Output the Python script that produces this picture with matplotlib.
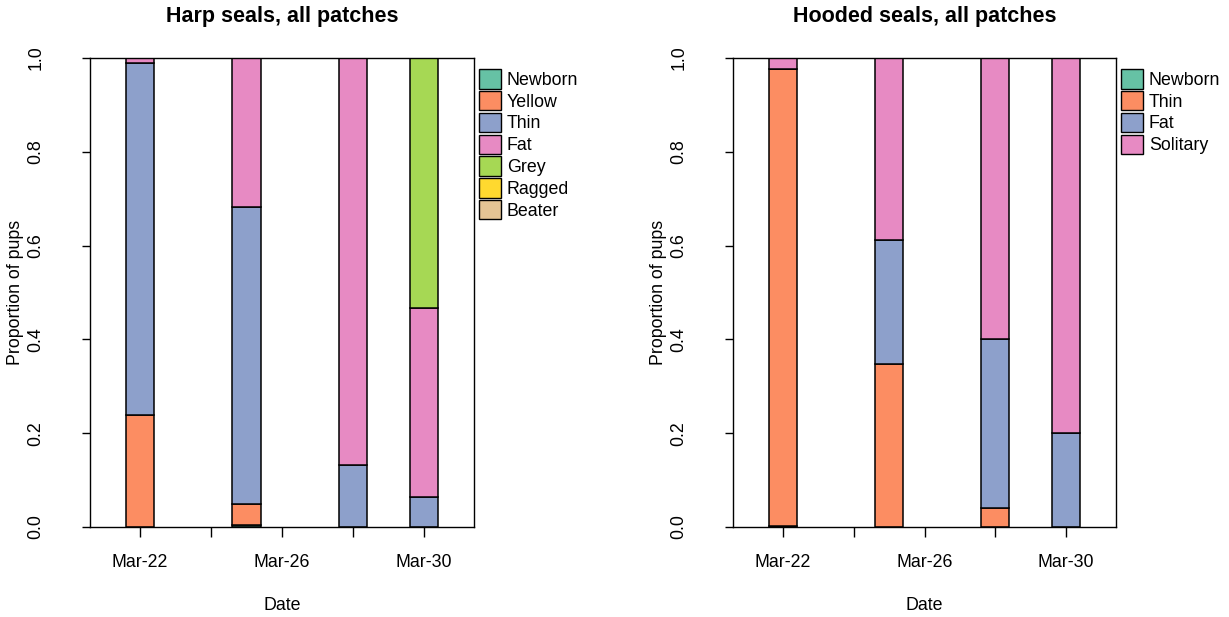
import matplotlib
matplotlib.use("Agg")
import matplotlib.pyplot as plt
from matplotlib.patches import Patch
import numpy as np

plt.rcParams['font.family'] = ['Liberation Sans', 'DejaVu Sans']

# ---- data ----
dates = ["Mar-22", "Mar-25", "Mar-28", "Mar-30"]
tick_days = [22, 24, 26, 28, 30]
tick_labels = ["Mar-22", "", "Mar-26", "", "Mar-30"]

harp_cats = ["Newborn", "Yellow", "Thin", "Fat", "Grey", "Ragged", "Beater"]
harp_newborn = [0.0, 0.005, 0.0, 0.0]
harp_yellow = [0.238, 0.045, 0.0, 0.0]
harp_thin = [0.752, 0.633, 0.132, 0.064]
harp_fat = [0.010, 0.317, 0.868, 0.403]
harp_grey = [0.0, 0.0, 0.0, 0.533]
harp_ragged = [0.0, 0.0, 0.0, 0.0]
harp_beater = [0.0, 0.0, 0.0, 0.0]

hood_cats = ["Newborn", "Thin", "Fat", "Solitary"]
hood_newborn = [0.003, 0.0, 0.0, 0.0]
hood_thin = [0.973, 0.347, 0.040, 0.0]
hood_fat = [0.0, 0.266, 0.360, 0.200]
hood_solitary = [0.024, 0.387, 0.600, 0.800]

colors = ["#66C2A5", "#FC8D62", "#8DA0CB", "#E78AC3", "#A6D854", "#FFD92F", "#E5C494"]

days = [int(d.split("-")[1]) for d in dates]

W, H = 1229, 617
fig = plt.figure(figsize=(W / 100, H / 100), dpi=100)
FS = 12.8

def make_panel(rect, title, cats, series):
    ax = fig.add_axes(rect)
    bottom = np.zeros(len(days))
    for i, vals in enumerate(series):
        vals = np.array(vals)
        ax.bar(days, vals, width=0.8, bottom=bottom, color=colors[i],
               edgecolor="black", linewidth=1.1, zorder=2)
        bottom += vals
    ax.set_xlim(20.59, 31.41)
    ax.set_ylim(0, 1)
    ax.set_xticks(tick_days)
    ax.set_xticklabels(tick_labels, fontsize=FS)
    ax.set_yticks([0, 0.2, 0.4, 0.6, 0.8, 1.0])
    ax.set_yticklabels(["0.0", "0.2", "0.4", "0.6", "0.8", "1.0"], fontsize=FS,
                       rotation=90, va="center")
    ax.tick_params(axis="x", length=7.2, width=1.0, color="black", pad=12)
    ax.tick_params(axis="y", length=6.0, width=1.0, color="black", pad=27)
    for s in ax.spines.values():
        s.set_linewidth(1.0)
    ax.set_xlabel("Date", fontsize=FS, labelpad=19)
    ax.set_ylabel("Proportion of pups", fontsize=FS)
    ax.yaxis.set_label_coords(-0.172, 0.5)
    ax.set_title(title, fontsize=15.5, fontweight="bold", pad=26)
    handles = [Patch(facecolor=colors[i], edgecolor="black", linewidth=1.0)
               for i in range(len(cats))]
    ax.legend(handles, cats, loc="upper left", bbox_to_anchor=(1.014, 0.976),
              frameon=False, fontsize=FS, handlelength=1.2, handleheight=1.3,
              labelspacing=0.12, handletextpad=0.35, borderaxespad=0, borderpad=0)
    return ax

make_panel([90 / W, 1 - 527 / H, 384 / W, 469 / H], "Harp seals, all patches",
           harp_cats, [harp_newborn, harp_yellow, harp_thin, harp_fat,
                       harp_grey, harp_ragged, harp_beater])
make_panel([733 / W, 1 - 527 / H, 383 / W, 469 / H], "Hooded seals, all patches",
           hood_cats, [hood_newborn, hood_thin, hood_fat, hood_solitary])

fig.savefig("out.png", dpi=100)
